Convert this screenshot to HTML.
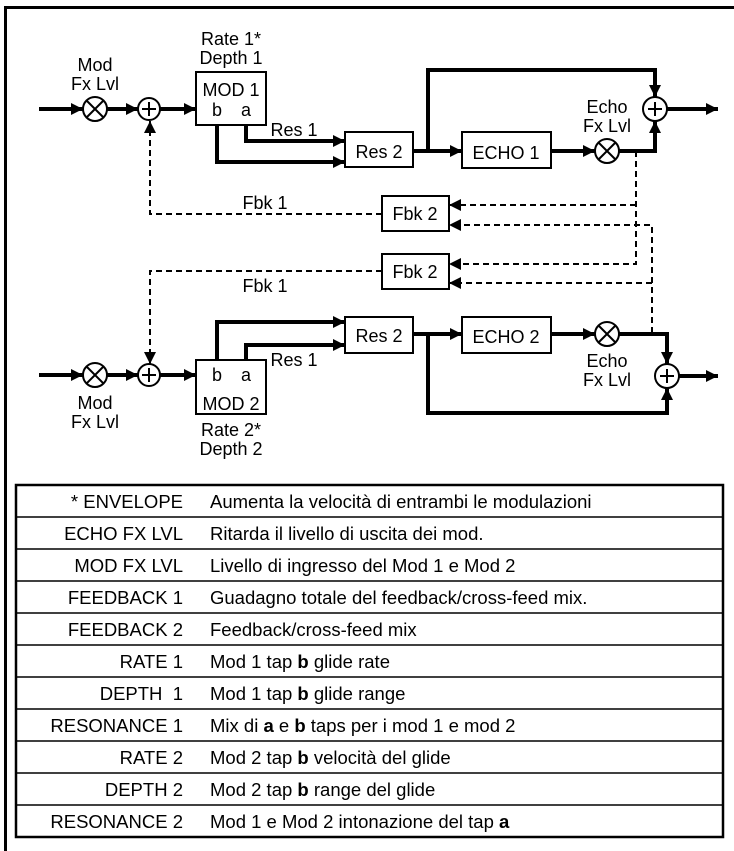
<!DOCTYPE html>
<html><head><meta charset="utf-8"><style>
html,body{margin:0;padding:0;background:#fff;}
svg{display:block;}
text{font-family:"Liberation Sans",Arial,sans-serif;fill:#000;}
</style></head><body>
<svg width="734" height="851" viewBox="0 0 734 851" xmlns="http://www.w3.org/2000/svg">
<defs>
<marker id="ah" viewBox="0 0 12 12" refX="12" refY="6" markerWidth="12" markerHeight="12" markerUnits="userSpaceOnUse" orient="auto"><path d="M0,0 L12,6 L0,12 z" fill="#000"/></marker>
</defs>
<rect x="5.5" y="7.5" width="740" height="850" fill="none" stroke="#000" stroke-width="3"/>

<g fill="none" stroke="#000" stroke-width="4" stroke-linejoin="miter">
<!-- top row -->
<path d="M39 109 H83" marker-end="url(#ah)"/>
<path d="M107 109 H138" marker-end="url(#ah)"/>
<path d="M160 109 H196" marker-end="url(#ah)"/>
<path d="M246 125 V141 H345" marker-end="url(#ah)"/>
<path d="M217 125 V162 H345" marker-end="url(#ah)"/>
<path d="M413 151 H462" marker-end="url(#ah)"/>
<path d="M428 151 V70 H655 V97" marker-end="url(#ah)"/>
<path d="M551 151 H595" marker-end="url(#ah)"/>
<path d="M619 151 H655 V121" marker-end="url(#ah)"/>
<path d="M667 109 H718" marker-end="url(#ah)"/>
<!-- bottom row -->
<path d="M39 375 H83" marker-end="url(#ah)"/>
<path d="M107 375 H138" marker-end="url(#ah)"/>
<path d="M160 375 H196" marker-end="url(#ah)"/>
<path d="M217 360 V322 H345" marker-end="url(#ah)"/>
<path d="M246 360 V345 H345" marker-end="url(#ah)"/>
<path d="M413 334 H462" marker-end="url(#ah)"/>
<path d="M428 334 V413 H667 V388" marker-end="url(#ah)"/>
<path d="M551 334 H595" marker-end="url(#ah)"/>
<path d="M619 334 H667 V364" marker-end="url(#ah)"/>
<path d="M679 376 H718" marker-end="url(#ah)"/>
</g>

<!-- dashed -->
<g fill="none" stroke="#000" stroke-width="2" stroke-dasharray="6,4">
<path d="M636 151 V264 H449" marker-end="url(#ah)"/>
<path d="M636 205 H449" marker-end="url(#ah)"/>
<path d="M652 333 V225 H449" marker-end="url(#ah)"/>
<path d="M652 283 H449" marker-end="url(#ah)"/>
<path d="M382 214 H150 V121" marker-end="url(#ah)"/>
<path d="M382 271 H150 V364" marker-end="url(#ah)"/>
</g>

<!-- boxes -->
<g fill="#fff" stroke="#000" stroke-width="2">
<rect x="196" y="72" width="70" height="53"/>
<rect x="345" y="132" width="68" height="35"/>
<rect x="462" y="132" width="89" height="36"/>
<rect x="382" y="196" width="67" height="35"/>
<rect x="382" y="254" width="67" height="35"/>
<rect x="196" y="360" width="70" height="54"/>
<rect x="345" y="317" width="68" height="36"/>
<rect x="462" y="317" width="89" height="36"/>
</g>

<!-- circles -->
<g fill="#fff" stroke="#000" stroke-width="2">
<circle cx="95" cy="109" r="12"/><path d="M86.5 100.5 L103.5 117.5 M103.5 100.5 L86.5 117.5"/>
<circle cx="149" cy="109" r="11"/><path d="M142 109 H156 M149 102 V116"/>
<circle cx="607" cy="151" r="12"/><path d="M598.5 142.5 L615.5 159.5 M615.5 142.5 L598.5 159.5"/>
<circle cx="655" cy="109" r="12"/><path d="M648 109 H662 M655 102 V116"/>
<circle cx="95" cy="375" r="12"/><path d="M86.5 366.5 L103.5 383.5 M103.5 366.5 L86.5 383.5"/>
<circle cx="149" cy="375" r="11"/><path d="M142 375 H156 M149 368 V382"/>
<circle cx="607" cy="334" r="12"/><path d="M598.5 325.5 L615.5 342.5 M615.5 325.5 L598.5 342.5"/>
<circle cx="667" cy="376" r="12"/><path d="M660 376 H674 M667 369 V383"/>
</g>

<g font-size="18" text-anchor="middle">
<text x="231" y="45">Rate 1*</text>
<text x="231" y="64">Depth 1</text>
<text x="95" y="71">Mod</text>
<text x="95" y="90">Fx Lvl</text>
<text x="231" y="96">MOD 1</text>
<text x="217" y="116">b</text><text x="246" y="116">a</text>
<text x="294" y="136">Res 1</text>
<text x="379" y="158">Res 2</text>
<text x="506" y="159">ECHO 1</text>
<text x="607" y="113">Echo</text>
<text x="607" y="132">Fx Lvl</text>
<text x="415" y="220">Fbk 2</text>
<text x="265" y="209">Fbk 1</text>
<text x="415" y="278">Fbk 2</text>
<text x="265" y="292">Fbk 1</text>
<text x="379" y="342">Res 2</text>
<text x="506" y="343">ECHO 2</text>
<text x="217" y="381">b</text><text x="246" y="381">a</text>
<text x="231" y="410">MOD 2</text>
<text x="294" y="366">Res 1</text>
<text x="95" y="409">Mod</text>
<text x="95" y="428">Fx Lvl</text>
<text x="231" y="436">Rate 2*</text>
<text x="231" y="455">Depth 2</text>
<text x="607" y="367">Echo</text>
<text x="607" y="386">Fx Lvl</text>
</g>

<!-- table -->
<g stroke="#000" stroke-width="1.5">
<line x1="16" y1="517" x2="723" y2="517"/>
<line x1="16" y1="549" x2="723" y2="549"/>
<line x1="16" y1="581" x2="723" y2="581"/>
<line x1="16" y1="613" x2="723" y2="613"/>
<line x1="16" y1="645" x2="723" y2="645"/>
<line x1="16" y1="677" x2="723" y2="677"/>
<line x1="16" y1="709" x2="723" y2="709"/>
<line x1="16" y1="741" x2="723" y2="741"/>
<line x1="16" y1="773" x2="723" y2="773"/>
<line x1="16" y1="805" x2="723" y2="805"/>
</g>
<rect x="16" y="485" width="707" height="352" fill="none" stroke="#000" stroke-width="2.5"/>

<g font-size="18.5" text-anchor="end">
<text x="183" y="508">* ENVELOPE</text>
<text x="183" y="540">ECHO FX LVL</text>
<text x="183" y="572">MOD FX LVL</text>
<text x="183" y="604">FEEDBACK 1</text>
<text x="183" y="636">FEEDBACK 2</text>
<text x="183" y="668">RATE 1</text>
<text x="183" y="700" xml:space="preserve">DEPTH  1</text>
<text x="183" y="732">RESONANCE 1</text>
<text x="183" y="764">RATE 2</text>
<text x="183" y="796">DEPTH 2</text>
<text x="183" y="828">RESONANCE 2</text>
</g>
<g font-size="18.5" xml:space="preserve">
<text x="210" y="508">Aumenta la velocità di entrambi le modulazioni</text>
<text x="210" y="540">Ritarda il livello di uscita dei mod.</text>
<text x="210" y="572">Livello di ingresso del Mod 1 e Mod 2</text>
<text x="210" y="604">Guadagno totale del feedback/cross-feed mix.</text>
<text x="210" y="636">Feedback/cross-feed mix</text>
<text x="210" y="668">Mod 1 tap <tspan font-weight="bold">b</tspan> glide rate</text>
<text x="210" y="700">Mod 1 tap <tspan font-weight="bold">b</tspan> glide range</text>
<text x="210" y="732">Mix di <tspan font-weight="bold">a</tspan> e <tspan font-weight="bold">b</tspan> taps per i mod 1 e mod 2</text>
<text x="210" y="764">Mod 2 tap <tspan font-weight="bold">b</tspan> velocità del glide</text>
<text x="210" y="796">Mod 2 tap <tspan font-weight="bold">b</tspan>  range del glide</text>
<text x="210" y="828">Mod 1 e Mod 2  intonazione del tap <tspan font-weight="bold">a</tspan></text>
</g>
</svg>
</body></html>
